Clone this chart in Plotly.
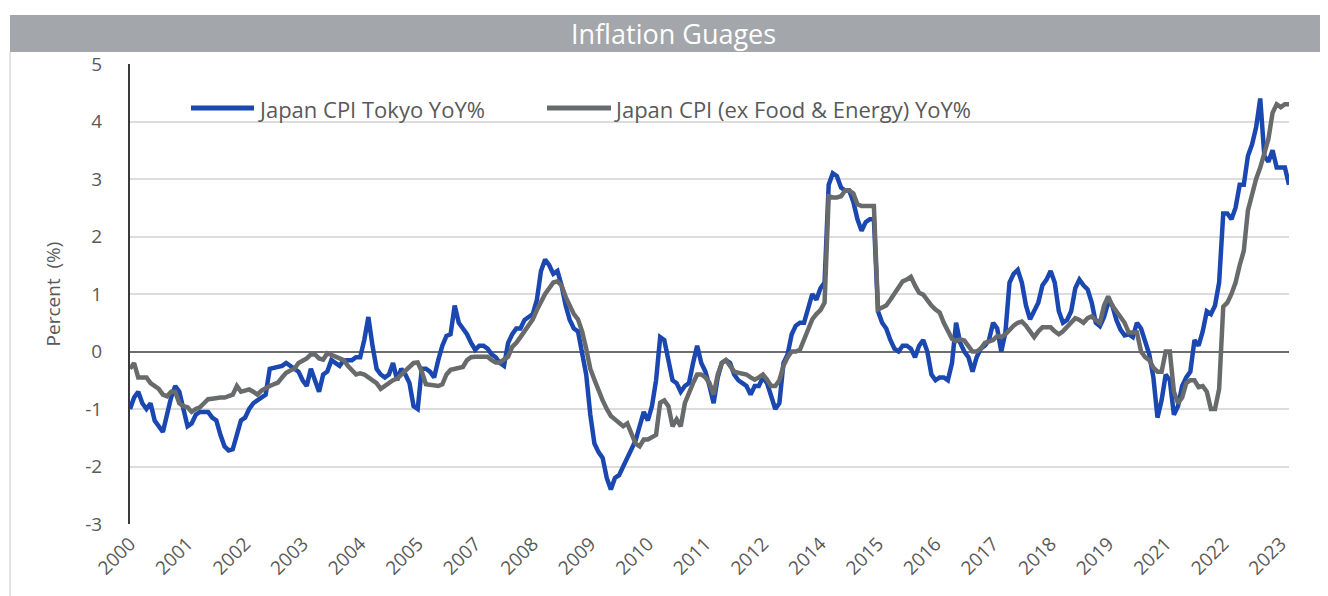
import pandas as pd
import plotly.graph_objects as go

# Monthly data, Feb 2000 - Aug 2023
start_month = "2000-02"
tokyo_cpi = [
    # 2000 (Feb-Dec)
    -1.0, -0.8, -0.7, -0.9, -1.0, -0.9, -1.2, -1.3, -1.4, -1.1, -0.8,
    # 2001
    -0.6, -0.7, -1.0, -1.3, -1.25, -1.1, -1.05, -1.05, -1.05, -1.15, -1.2, -1.45,
    # 2002
    -1.65, -1.72, -1.7, -1.45, -1.2, -1.15, -1.0, -0.9, -0.85, -0.8, -0.75, -0.3,
    # 2003
    -0.28, -0.28, -0.25, -0.2, -0.25, -0.3, -0.35, -0.5, -0.6, -0.3, -0.5, -0.7,
    # 2004
    -0.4, -0.35, -0.15, -0.2, -0.25, -0.15, -0.15, -0.15, -0.1, -0.1, 0.2, 0.6,
    # 2005
    0.1, -0.3, -0.4, -0.45, -0.4, -0.2, -0.5, -0.3, -0.4, -0.55, -0.95, -1.0,
    # 2006
    -0.3, -0.3, -0.35, -0.45, -0.15, 0.1, 0.27, 0.3, 0.8, 0.5, 0.4, 0.3,
    # 2007
    0.15, 0.03, 0.1, 0.1, 0.05, -0.05, -0.1, -0.2, -0.25, 0.15, 0.3, 0.4,
    # 2008
    0.4, 0.55, 0.6, 0.65, 0.9, 1.4, 1.6, 1.5, 1.35, 1.4, 1.15, 0.8,
    # 2009
    0.55, 0.4, 0.35, 0.0, -0.4, -1.1, -1.6, -1.75, -1.85, -2.2, -2.4, -2.2,
    # 2010
    -2.15, -2.0, -1.85, -1.7, -1.55, -1.3, -1.05, -1.2, -0.95, -0.5, 0.25, 0.2,
    # 2011
    -0.2, -0.5, -0.55, -0.7, -0.6, -0.55, -0.2, 0.1, -0.2, -0.35, -0.6, -0.9,
    # 2012
    -0.45, -0.2, -0.15, -0.2, -0.4, -0.5, -0.55, -0.6, -0.75, -0.6, -0.6, -0.45,
    # 2013
    -0.55, -0.75, -1.0, -0.9, -0.2, -0.05, 0.3, 0.45, 0.5, 0.5, 0.75, 1.0,
    # 2014
    0.9, 1.1, 1.2, 2.9, 3.1, 3.05, 2.85, 2.8, 2.8, 2.6, 2.3, 2.1,
    # 2015
    2.25, 2.3, 2.3, 0.7, 0.5, 0.4, 0.2, 0.05, 0.0, 0.1, 0.1, 0.05,
    # 2016
    -0.1, 0.1, 0.2, 0.0, -0.4, -0.5, -0.45, -0.45, -0.5, -0.2, 0.5, 0.15,
    # 2017
    0.0, -0.1, -0.35, -0.1, 0.05, 0.1, 0.2, 0.5, 0.4, 0.0, 0.33, 1.2,
    # 2018
    1.35, 1.42, 1.2, 0.8, 0.56, 0.7, 0.85, 1.15, 1.25, 1.4, 1.2, 0.7,
    # 2019
    0.5, 0.55, 0.7, 1.1, 1.25, 1.15, 1.08, 0.85, 0.5, 0.44, 0.6, 0.85,
    # 2020
    0.8, 0.55, 0.38, 0.28, 0.3, 0.25, 0.5, 0.4, 0.2, -0.05, -0.45, -1.15,
    # 2021
    -0.85, -0.4, -0.5, -1.1, -0.95, -0.6, -0.45, -0.35, 0.2, 0.1, 0.35, 0.7,
    # 2022
    0.65, 0.8, 1.2, 2.4, 2.4, 2.3, 2.5, 2.9, 2.9, 3.4, 3.6, 3.9,
    # 2023 (Jan-Aug)
    4.4, 3.4, 3.3, 3.5, 3.2, 3.2, 3.2, 2.9,
]
core_core_cpi = [
    # 2000 (Feb-Dec)
    -0.3, -0.2, -0.45, -0.45, -0.45, -0.55, -0.6, -0.65, -0.75, -0.78, -0.7,
    # 2001
    -0.7, -0.9, -0.95, -0.97, -1.05, -1.0, -0.97, -0.9, -0.83, -0.82, -0.8, -0.8,
    # 2002
    -0.8, -0.78, -0.75, -0.6, -0.7, -0.68, -0.66, -0.7, -0.75, -0.68, -0.63, -0.6,
    # 2003
    -0.57, -0.54, -0.45, -0.37, -0.33, -0.3, -0.2, -0.16, -0.12, -0.05, -0.05, -0.12,
    # 2004
    -0.14, -0.03, -0.05, -0.09, -0.12, -0.15, -0.25, -0.32, -0.4, -0.38, -0.4, -0.45,
    # 2005
    -0.49, -0.55, -0.65, -0.6, -0.54, -0.5, -0.47, -0.4, -0.33, -0.27, -0.2, -0.19,
    # 2006
    -0.35, -0.57, -0.58, -0.6, -0.6, -0.57, -0.4, -0.32, -0.3, -0.28, -0.27, -0.15,
    # 2007
    -0.1, -0.09, -0.09, -0.09, -0.09, -0.15, -0.19, -0.19, -0.15, -0.09, 0.08, 0.15,
    # 2008
    0.25, 0.35, 0.45, 0.56, 0.72, 0.88, 1.0, 1.1, 1.2, 1.22, 1.15, 0.95,
    # 2009
    0.8, 0.65, 0.56, 0.35, 0.05, -0.3, -0.49, -0.7, -0.85, -1.0, -1.12, -1.18,
    # 2010
    -1.25, -1.3, -1.25, -1.41, -1.6, -1.65, -1.53, -1.53, -1.5, -1.45, -0.89, -0.85,
    # 2011
    -0.95, -1.3, -1.18, -1.3, -0.9, -0.7, -0.55, -0.4, -0.4, -0.45, -0.55, -0.75,
    # 2012
    -0.4, -0.2, -0.15, -0.25, -0.35, -0.37, -0.38, -0.4, -0.45, -0.49, -0.45, -0.4,
    # 2013
    -0.49, -0.6, -0.6, -0.5, -0.25, -0.1, 0.0, 0.0, 0.03, 0.2, 0.35, 0.56,
    # 2014
    0.65, 0.72, 0.85, 2.7, 2.68, 2.68, 2.7, 2.8, 2.8, 2.75, 2.56, 2.53,
    # 2015
    2.53, 2.53, 2.53, 0.73, 0.76, 0.8, 0.9, 1.0, 1.1, 1.22, 1.25, 1.3,
    # 2016
    1.15, 1.02, 0.99, 0.88, 0.8, 0.73, 0.68, 0.5, 0.35, 0.22, 0.18, 0.21,
    # 2017
    0.19, 0.08, 0.0, 0.0, 0.05, 0.15, 0.17, 0.2, 0.27, 0.25, 0.3, 0.38,
    # 2018
    0.45, 0.5, 0.52, 0.45, 0.35, 0.25, 0.35, 0.42, 0.42, 0.42, 0.35, 0.3,
    # 2019
    0.35, 0.42, 0.5, 0.58, 0.55, 0.5, 0.58, 0.61, 0.55, 0.5, 0.8, 0.96,
    # 2020
    0.8, 0.7, 0.6, 0.5, 0.33, 0.33, 0.33, 0.0, -0.1, -0.15, -0.28, -0.35,
    # 2021
    -0.35, 0.0, 0.0, -0.7, -0.9, -0.8, -0.55, -0.5, -0.5, -0.62, -0.6, -0.7,
    # 2022
    -1.0, -1.0, -0.65, 0.78, 0.85, 1.0, 1.2, 1.5, 1.75, 2.45, 2.76, 3.0,
    # 2023 (Jan-Aug)
    3.2, 3.45, 3.7, 4.15, 4.3, 4.25, 4.3, 4.3,
]
label_every = 14  # Excel category-axis label interval (months)
y_ticks = [5, 4, 3, 2, 1, 0, -1, -2, -3]
y_tick_text = ["5", "4", "3", "2", "1", "0", "-1", "-2", "-3"]

months = pd.date_range(start_month, periods=len(tokyo_cpi), freq="MS")
x_cat = [d.strftime("%b %Y") for d in months]
tick_vals = x_cat[::label_every]
tick_text = [d.strftime("%Y") for d in months[::label_every]]

OFF = 8                       # default page margin of the html body
W, H = 1328 - OFF, 596 - OFF  # figure size
L, R, T, B = 130, 1289, 64, 524  # plot area in window pixels


def px(x):
    return (x - L) / (R - L)


def py(y):
    return (B - y) / (B - T)


BLUE = "#1A47B0"
GRAY = "#686A6C"
TXT = "#595959"
FONT = "Open Sans"

fig = go.Figure()
fig.add_trace(go.Scatter(x=x_cat, y=tokyo_cpi, mode="lines", name="Japan CPI Tokyo YoY%",
                         line=dict(color=BLUE, width=4.5), showlegend=False))
fig.add_trace(go.Scatter(x=x_cat, y=core_core_cpi, mode="lines",
                         name="Japan CPI (ex Food & Energy) YoY%",
                         line=dict(color=GRAY, width=4.5), showlegend=False))

shapes = [
    # title bar
    dict(type="rect", xref="paper", yref="paper", x0=px(10), x1=px(1335), y0=py(52), y1=py(15),
         fillcolor="#A3A6AA", line=dict(width=0), layer="below"),
    # left frame line
    dict(type="line", xref="paper", yref="paper", x0=px(10), x1=px(10), y0=py(52), y1=py(600),
         line=dict(color="#C8C8C8", width=1)),
    # legend samples
    dict(type="line", xref="paper", yref="paper", x0=px(191), x1=px(254), y0=py(108), y1=py(108),
         line=dict(color=BLUE, width=5)),
    dict(type="line", xref="paper", yref="paper", x0=px(547), x1=px(611), y0=py(108), y1=py(108),
         line=dict(color=GRAY, width=5)),
]
annotations = [
    dict(text="Inflation Guages", xref="paper", yref="paper", x=px(673), y=py(34),
         xanchor="center", yanchor="middle", showarrow=False,
         font=dict(family=FONT, size=27, color="white")),
    dict(text="Japan CPI Tokyo YoY%", xref="paper", yref="paper", x=px(256), y=py(109),
         xanchor="left", yanchor="middle", showarrow=False,
         font=dict(family=FONT, size=22, color=TXT)),
    dict(text="Japan CPI (ex Food & Energy) YoY%", xref="paper", yref="paper", x=px(612), y=py(109),
         xanchor="left", yanchor="middle", showarrow=False,
         font=dict(family=FONT, size=22, color=TXT)),
]

fig.update_layout(
    width=W, height=H,
    margin=dict(l=L - OFF, r=(W + OFF) - R, t=T - OFF, b=(H + OFF) - B, pad=0),
    paper_bgcolor="white", plot_bgcolor="white",
    font=dict(family=FONT, color=TXT),
    shapes=shapes, annotations=annotations,
    xaxis=dict(type="category", range=[0, len(x_cat) - 1], tickmode="array",
               tickvals=tick_vals, ticktext=tick_text, tickangle=-45,
               tickfont=dict(size=19, color=TXT), showgrid=False, showline=False,
               zeroline=False, ticks="", ticklabelstandoff=4),
    yaxis=dict(range=[-3, 5], tickmode="array", tickvals=y_ticks, ticktext=y_tick_text,
               tickfont=dict(size=19, color=TXT),
               showgrid=True, gridcolor="#DCDCDC", gridwidth=1.5,
               zeroline=True, zerolinecolor="#6E6E6E", zerolinewidth=2,
               showline=True, linecolor="#3A3A3A", linewidth=2,
               ticks="", ticklabelstandoff=22,
               title=dict(text="Percent  (%)", font=dict(size=19, color=TXT), standoff=20)),
)

fig.write_html("out.html")
